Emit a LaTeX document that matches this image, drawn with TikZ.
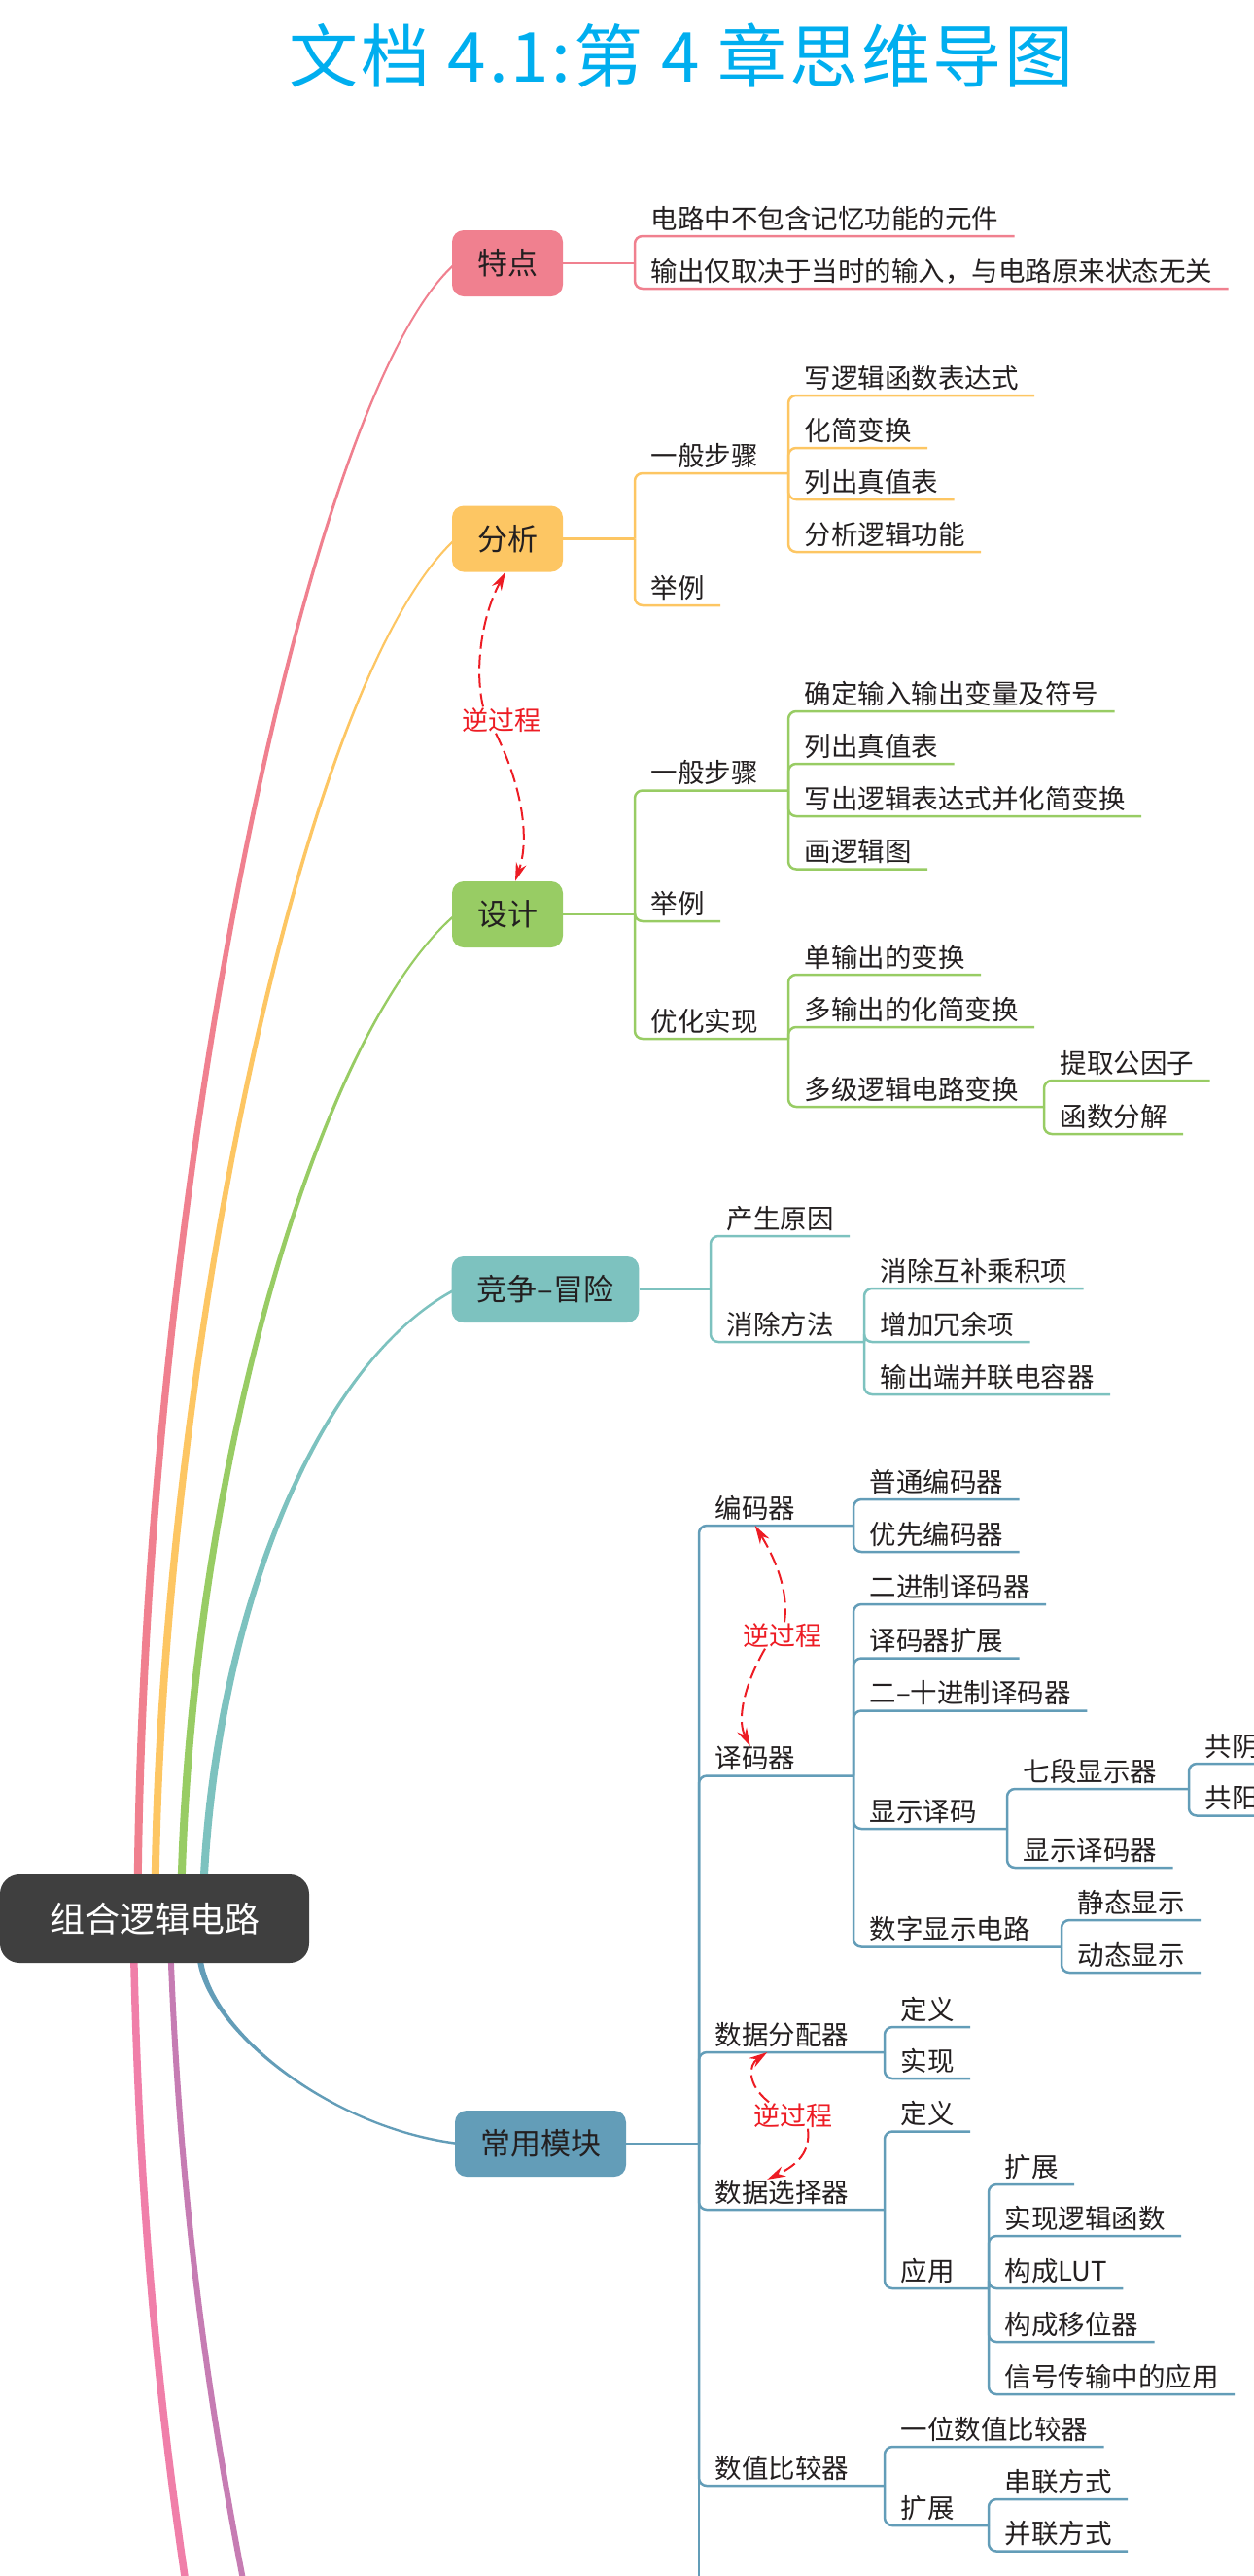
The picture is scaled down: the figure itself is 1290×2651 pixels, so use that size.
\documentclass[tikz,border=0pt]{standalone}
\usepackage{fontspec}
\setmainfont{Noto Sans CJK SC}
\usepackage{xcolor}
\usetikzlibrary{arrows.meta,backgrounds}

\definecolor{tdpink}{HTML}{F0808F}
\definecolor{fxorange}{HTML}{FDC663}
\definecolor{sjgreen}{HTML}{98CC64}
\definecolor{jzteal}{HTML}{7DC2BF}
\definecolor{cyblue}{HTML}{639DB8}
\definecolor{rootgray}{HTML}{3F3F3F}
\definecolor{rosepink}{HTML}{F07FA9}
\definecolor{mauve}{HTML}{C67CB3}
\definecolor{revred}{HTML}{ED1C24}
\definecolor{titlecyan}{HTML}{00AEEF}
\definecolor{inkc}{HTML}{231F20}

\begin{document}
\begin{tikzpicture}[x=1pt, y=-1pt,
    topic/.style={rounded corners=12pt, minimum height=68pt, inner xsep=26pt, inner ysep=0pt, text=inkc, font=\fontsize{31}{31}\selectfont},
    leaf/.style={anchor=south west, inner xsep=16.5pt, inner ysep=0pt, outer sep=0pt, text depth=8pt, text=inkc, font=\fontsize{27.5}{27.5}\selectfont},
    link/.style={line width=2.5pt, rounded corners=8pt},
    revtext/.style={text=revred, inner sep=1pt, font=\fontsize{27}{27}\selectfont},
    revarrow/.style={revred, line width=2pt, dash pattern=on 14pt off 6pt, -{Stealth[length=19pt,width=11pt]}}]
    \useasboundingbox (0,0) rectangle (1290,2651);
    \clip (0,0) rectangle (1290,2651);

    % Title
    \node[text=titlecyan, font=\fontsize{71}{71}\selectfont\addfontfeature{LetterSpace=4}] (title) at (701,57) {文档 4.1:第 4 章思维导图};

    % Root and main topics
    \node[fill=rootgray, rounded corners=20pt, minimum width=318pt, minimum height=91pt, text=white, font=\fontsize{36}{36}\selectfont] (root) at (159,1974.5) {组合逻辑电路};
    \node[topic, fill=tdpink] (tedian) at (522,271) {特点};
    \node[topic, fill=fxorange] (fenxi) at (522,554.5) {分析};
    \node[topic, fill=sjgreen] (sheji) at (522,941) {设计};
    \node[topic, fill=jzteal] (jingzheng) at (561,1327) {竞争–冒险};
    \node[topic, fill=cyblue] (changyong) at (556,2206) {常用模块};

    % Tapered branches from the root
    \begin{scope}[on background layer]
        \fill[tdpink] ([xshift=138pt,yshift=-4pt]root.north west) .. controls (146,1200) and (319,399) .. ([xshift=4pt,yshift=1.5pt]tedian.west)
            -- ([xshift=4pt,yshift=-1.5pt]tedian.west) .. controls (321,401) and (154,1200) .. ([xshift=146pt,yshift=-4pt]root.north west) -- cycle;
        \fill[fxorange] ([xshift=156pt,yshift=-4pt]root.north west) .. controls (164,1400) and (309,699) .. ([xshift=4pt,yshift=1.5pt]fenxi.west)
            -- ([xshift=4pt,yshift=-1.5pt]fenxi.west) .. controls (311,701) and (172,1400) .. ([xshift=164pt,yshift=-4pt]root.north west) -- cycle;
        \fill[sjgreen] ([xshift=183pt,yshift=-4pt]root.north west) .. controls (196,1500) and (329,1059) .. ([xshift=4pt,yshift=1.5pt]sheji.west)
            -- ([xshift=4pt,yshift=-1.5pt]sheji.west) .. controls (331,1061) and (204,1500) .. ([xshift=191pt,yshift=-4pt]root.north west) -- cycle;
        \fill[jzteal] ([xshift=206pt,yshift=-4pt]root.north west) .. controls (221,1650) and (329,1399) .. ([xshift=4pt,yshift=1.5pt]jingzheng.west)
            -- ([xshift=4pt,yshift=-1.5pt]jingzheng.west) .. controls (331,1401) and (229,1650) .. ([xshift=214pt,yshift=-4pt]root.north west) -- cycle;
        \fill[cyblue] ([xshift=203pt,yshift=4pt]root.south west) .. controls (212,2090) and (340,2191.25) .. ([xshift=4pt,yshift=-1.25pt]changyong.west)
            -- ([xshift=4pt,yshift=1.25pt]changyong.west) .. controls (340,2188.75) and (218,2090) .. ([xshift=209pt,yshift=4pt]root.south west) -- cycle;
        % branches leaving the page
        \coordinate (roseEnd) at (192,2665);
        \coordinate (mauveEnd) at (252,2665);
        \draw[rosepink, line width=7.5pt] ([xshift=138pt,yshift=4pt]root.south west) .. controls (143,2250) and (160,2450) .. (roseEnd);
        \draw[mauve, line width=6pt] ([xshift=176pt,yshift=4pt]root.south west) .. controls (185,2250) and (210,2450) .. (mauveEnd);
    \end{scope}

    % 特点
    \coordinate (tedianJ) at (653,271);
    \node[leaf] (td1) at (653,243) {电路中不包含记忆功能的元件};
    \node[leaf] (td2) at (653,297) {输出仅取决于当时的输入，与电路原来状态无关};
    \draw[link, tdpink] (tedian) -- (tedianJ);
    \draw[link, tdpink] (tedianJ) |- (td1.south east);
    \draw[link, tdpink] (tedianJ) |- (td2.south east);

    % 分析
    \coordinate (fenxiJ) at (653,554.5);
    \coordinate (fx1J) at (811,487);
    \node[leaf] (fx1) at (653,487) {一般步骤};
    \node[leaf] (fx11) at (811,407) {写逻辑函数表达式};
    \node[leaf] (fx12) at (811,461) {化简变换};
    \node[leaf] (fx13) at (811,514) {列出真值表};
    \node[leaf] (fx14) at (811,568) {分析逻辑功能};
    \node[leaf] (fx2) at (653,623) {举例};
    \draw[link, fxorange] (fenxi) -- (fenxiJ);
    \draw[link, fxorange] (fenxiJ) |- (fx1J);
    \draw[link, fxorange] (fenxiJ) |- (fx2.south east);
    \draw[link, fxorange] (fx1J) |- (fx11.south east);
    \draw[link, fxorange] (fx1J) |- (fx12.south east);
    \draw[link, fxorange] (fx1J) |- (fx13.south east);
    \draw[link, fxorange] (fx1J) |- (fx14.south east);

    % 设计
    \coordinate (shejiJ) at (653,941);
    \coordinate (sj1J) at (811,813.5);
    \coordinate (sj3J) at (811,1069);
    \coordinate (sj33J) at (1074,1139);
    \node[leaf] (sj1) at (653,813.5) {一般步骤};
    \node[leaf] (sj11) at (811,732) {确定输入输出变量及符号};
    \node[leaf] (sj12) at (811,786) {列出真值表};
    \node[leaf] (sj13) at (811,840) {写出逻辑表达式并化简变换};
    \node[leaf] (sj14) at (811,894.5) {画逻辑图};
    \node[leaf] (sj2) at (653,948) {举例};
    \node[leaf] (sj3) at (653,1069) {优化实现};
    \node[leaf] (sj31) at (811,1003) {单输出的变换};
    \node[leaf] (sj32) at (811,1057) {多输出的化简变换};
    \node[leaf] (sj33) at (811,1139) {多级逻辑电路变换};
    \node[leaf] (sj331) at (1074,1112) {提取公因子};
    \node[leaf] (sj332) at (1074,1167) {函数分解};
    \draw[link, sjgreen] (sheji) -- (shejiJ);
    \draw[link, sjgreen] (shejiJ) |- (sj1J);
    \draw[link, sjgreen] (shejiJ) |- (sj2.south east);
    \draw[link, sjgreen] (shejiJ) |- (sj3J);
    \draw[link, sjgreen] (sj1J) |- (sj11.south east);
    \draw[link, sjgreen] (sj1J) |- (sj12.south east);
    \draw[link, sjgreen] (sj1J) |- (sj13.south east);
    \draw[link, sjgreen] (sj1J) |- (sj14.south east);
    \draw[link, sjgreen] (sj3J) |- (sj31.south east);
    \draw[link, sjgreen] (sj3J) |- (sj32.south east);
    \draw[link, sjgreen] (sj3J) |- (sj33J);
    \draw[link, sjgreen] (sj33J) |- (sj331.south east);
    \draw[link, sjgreen] (sj33J) |- (sj332.south east);

    % 分析 <-> 设计
    \node[revtext] (rev1) at (516,741) {逆过程};
    \draw[revarrow] ([xshift=-19pt]rev1.north) .. controls (488,690) and (495,635) .. ([xshift=-2pt]fenxi.south);
    \draw[revarrow] ([xshift=-6pt]rev1.south) .. controls (535,805) and (546,860) .. ([xshift=8pt]sheji.north);

    % 竞争-冒险
    \coordinate (jzJ) at (731,1327);
    \coordinate (jz2J) at (889,1381);
    \node[leaf] (jz1) at (731,1272) {产生原因};
    \node[leaf] (jz2) at (731,1381) {消除方法};
    \node[leaf] (jz21) at (889,1326) {消除互补乘积项};
    \node[leaf] (jz22) at (889,1381) {增加冗余项};
    \node[leaf] (jz23) at (889,1435) {输出端并联电容器};
    \draw[link, jzteal] (jingzheng) -- (jzJ);
    \draw[link, jzteal] (jzJ) |- (jz1.south east);
    \draw[link, jzteal] (jzJ) |- (jz2J);
    \draw[link, jzteal] (jz2J) |- (jz21.south east);
    \draw[link, jzteal] (jz2J) |- (jz22.south east);
    \draw[link, jzteal] (jz2J) |- (jz23.south east);

    % 常用模块
    \coordinate (cyJ) at (719,2206);
    \coordinate (cyEnd) at (719,2670);
    \draw[link, cyblue] (changyong) -- (cyJ);
    \draw[link, cyblue] (cyJ) -- (cyEnd);

    % 编码器 / 译码器
    \coordinate (bmJ) at (878,1570);
    \node[leaf] (bm) at (719,1570) {编码器};
    \node[leaf] (bm1) at (878,1543) {普通编码器};
    \node[leaf] (bm2) at (878,1597) {优先编码器};
    \draw[link, cyblue] (cyJ) |- (bmJ);
    \draw[link, cyblue] (bmJ) |- (bm1.south east);
    \draw[link, cyblue] (bmJ) |- (bm2.south east);

    \coordinate (ymJ) at (878,1827.5);
    \coordinate (ym4J) at (1036,1882);
    \coordinate (ym41J) at (1223,1841);
    \coordinate (ym5J) at (1092,2003.5);
    \node[leaf] (ym) at (719,1827.5) {译码器};
    \node[leaf] (ym1) at (878,1651) {二进制译码器};
    \node[leaf] (ym2) at (878,1706.5) {译码器扩展};
    \node[leaf] (ym3) at (878,1760.5) {二–十进制译码器};
    \node[leaf] (ym4) at (878,1882) {显示译码};
    \node[leaf] (ym41) at (1036,1841) {七段显示器};
    \node[leaf] (ym411) at (1223,1815) {共阴};
    \node[leaf] (ym412) at (1223,1868.5) {共阳};
    \node[leaf] (ym42) at (1036,1922) {显示译码器};
    \node[leaf] (ym5) at (878,2003.5) {数字显示电路};
    \node[leaf] (ym51) at (1092,1976) {静态显示};
    \node[leaf] (ym52) at (1092,2030) {动态显示};
    \draw[link, cyblue] (cyJ) |- (ymJ);
    \draw[link, cyblue] (ymJ) |- (ym1.south east);
    \draw[link, cyblue] (ymJ) |- (ym2.south east);
    \draw[link, cyblue] (ymJ) |- (ym3.south east);
    \draw[link, cyblue] (ymJ) |- (ym4J);
    \draw[link, cyblue] (ymJ) |- (ym5J);
    \draw[link, cyblue] (ym4J) |- (ym41J);
    \draw[link, cyblue] (ym4J) |- (ym42.south east);
    \draw[link, cyblue] (ym41J) |- (ym411.south east);
    \draw[link, cyblue] (ym41J) |- (ym412.south east);
    \draw[link, cyblue] (ym5J) |- (ym51.south east);
    \draw[link, cyblue] (ym5J) |- (ym52.south east);

    \node[revtext] (rev2) at (805,1683) {逆过程};
    \draw[revarrow] ([xshift=2pt]rev2.north) .. controls (812,1635) and (795,1600) .. (bm.south);
    \draw[revarrow] ([xshift=-18pt]rev2.south) .. controls (765,1735) and (758,1770) .. ([xshift=-5pt]ym.north);

    % 数据分配器 / 数据选择器
    \coordinate (fpJ) at (910,2112);
    \node[leaf] (fp) at (719,2112) {数据分配器};
    \node[leaf] (fp1) at (910,2086) {定义};
    \node[leaf] (fp2) at (910,2139) {实现};
    \draw[link, cyblue] (cyJ) |- (fpJ);
    \draw[link, cyblue] (fpJ) |- (fp1.south east);
    \draw[link, cyblue] (fpJ) |- (fp2.south east);

    \coordinate (xzJ) at (910,2274);
    \coordinate (xz2J) at (1017,2355);
    \node[leaf] (xz) at (719,2274) {数据选择器};
    \node[leaf] (xz1) at (910,2193.5) {定义};
    \node[leaf] (xz2) at (910,2355) {应用};
    \node[leaf] (xz21) at (1017,2248) {扩展};
    \node[leaf] (xz22) at (1017,2301) {实现逻辑函数};
    \node[leaf] (xz23) at (1017,2355) {构成LUT};
    \node[leaf] (xz24) at (1017,2410) {构成移位器};
    \node[leaf] (xz25) at (1017,2464) {信号传输中的应用};
    \draw[link, cyblue] (cyJ) |- (xzJ);
    \draw[link, cyblue] (xzJ) |- (xz1.south east);
    \draw[link, cyblue] (xzJ) |- (xz2J);
    \draw[link, cyblue] (xz2J) |- (xz21.south east);
    \draw[link, cyblue] (xz2J) |- (xz22.south east);
    \draw[link, cyblue] (xz2J) |- (xz23.south east);
    \draw[link, cyblue] (xz2J) |- (xz24.south east);
    \draw[link, cyblue] (xz2J) |- (xz25.south east);

    \node[revtext] (rev3) at (816,2177) {逆过程};
    \draw[revarrow] ([xshift=-25pt]rev3.north) .. controls (768,2145) and (770,2125) .. ([xshift=-15pt]fp.south);
    \draw[revarrow] ([xshift=15pt]rev3.south) .. controls (834,2215) and (820,2228) .. ([xshift=-15pt]xz.north);

    % 数值比较器
    \coordinate (bjJ) at (910,2558);
    \coordinate (bj2J) at (1017,2599);
    \node[leaf] (bj) at (719,2558) {数值比较器};
    \node[leaf] (bj1) at (910,2518) {一位数值比较器};
    \node[leaf] (bj2) at (910,2599) {扩展};
    \node[leaf] (bj21) at (1017,2572) {串联方式};
    \node[leaf] (bj22) at (1017,2625.5) {并联方式};
    \draw[link, cyblue] (cyJ) |- (bjJ);
    \draw[link, cyblue] (bjJ) |- (bj1.south east);
    \draw[link, cyblue] (bjJ) |- (bj2J);
    \draw[link, cyblue] (bj2J) |- (bj21.south east);
    \draw[link, cyblue] (bj2J) |- (bj22.south east);
\end{tikzpicture}
\end{document}
